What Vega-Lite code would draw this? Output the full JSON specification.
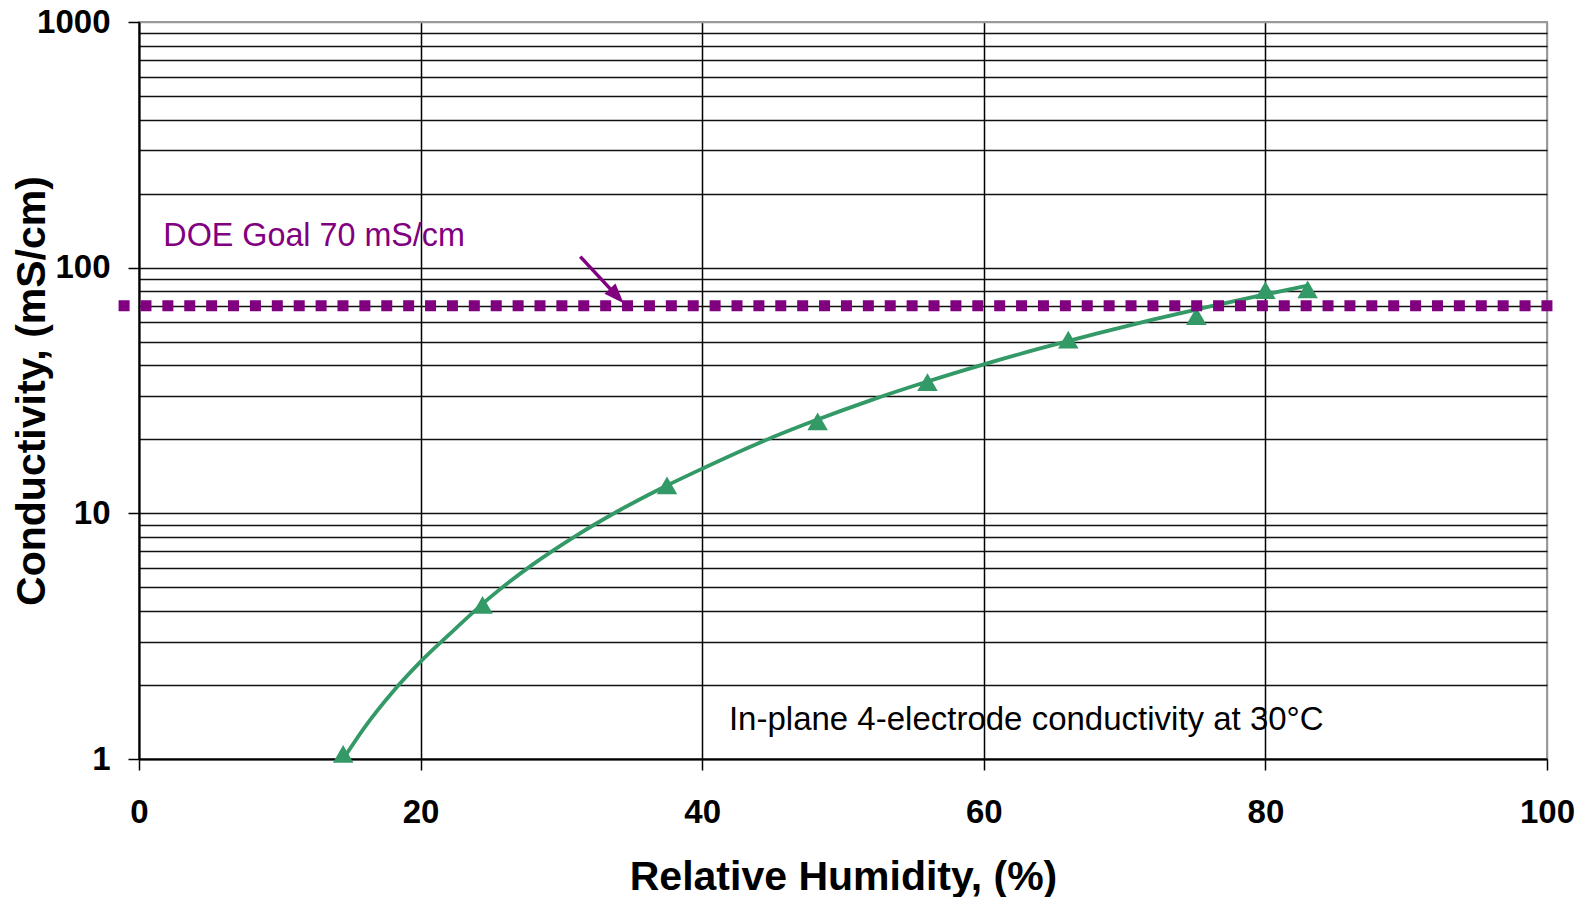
{
  "$schema": "https://vega.github.io/schema/vega-lite/v6.json",
  "width": 1408,
  "height": 737,
  "autosize": {"type": "none"},
  "padding": {"left": 139, "top": 22, "right": 39, "bottom": 138},
  "background": "white",
  "config": {
    "font": "Liberation Sans",
    "view": {"stroke": "#9a9a9a", "strokeWidth": 2}
  },
  "datasets": {
    "fit": [
      {"rh": 14.5, "sigma": 1.0},
      {"rh": 16, "sigma": 1.34},
      {"rh": 18, "sigma": 1.87},
      {"rh": 20, "sigma": 2.49},
      {"rh": 22, "sigma": 3.2},
      {"rh": 25, "sigma": 4.58},
      {"rh": 28, "sigma": 6.21},
      {"rh": 31, "sigma": 8.08},
      {"rh": 34, "sigma": 10.2},
      {"rh": 37, "sigma": 12.57},
      {"rh": 40, "sigma": 15.2},
      {"rh": 44, "sigma": 19.3},
      {"rh": 48, "sigma": 23.85},
      {"rh": 52, "sigma": 28.9},
      {"rh": 56, "sigma": 34.4},
      {"rh": 60, "sigma": 40.4},
      {"rh": 64, "sigma": 46.9},
      {"rh": 68, "sigma": 53.9},
      {"rh": 72, "sigma": 61.4},
      {"rh": 76, "sigma": 69.4},
      {"rh": 80, "sigma": 77.8},
      {"rh": 83, "sigma": 84.5}
    ],
    "measured": [
      {"rh": 14.5, "sigma": 1.05},
      {"rh": 24.4, "sigma": 4.24},
      {"rh": 37.5, "sigma": 13.0},
      {"rh": 48.2, "sigma": 23.7},
      {"rh": 56.0, "sigma": 34.2},
      {"rh": 66.0, "sigma": 50.9},
      {"rh": 75.1, "sigma": 63.5},
      {"rh": 80.0, "sigma": 81.0},
      {"rh": 83.0, "sigma": 81.5}
    ],
    "goal": [{"rh": -1.45, "rh_end": 100.4, "sigma": 70}],
    "arrow": [{"rh": 31.34, "rh_end": 33.9, "sigma": 110.9, "sigma_end": 77.1, "tip_rh": 34.42, "tip_sigma": 71.6}],
    "goalLabel": [{"rh": 1.73, "sigma": 122.5, "text": "DOE Goal 70 mS/cm"}],
    "note": [{"rh": 41.9, "sigma": 1.312, "text": "In-plane 4-electrode conductivity at 30°C"}]
  },
  "layer": [
    {
      "data": {"name": "fit"},
      "mark": {"type": "line", "color": "#339966", "strokeWidth": 3.8, "interpolate": "monotone"},
      "encoding": {
        "x": {
          "field": "rh",
          "type": "quantitative",
          "scale": {"domain": [0, 100], "nice": false, "zero": false},
          "axis": {
            "values": [0, 20, 40, 60, 80, 100],
            "format": "d",
            "grid": true,
            "gridColor": {"condition": {"test": "datum.value == 100", "value": "#9a9a9a"}, "value": "#000000"},
            "gridWidth": 1.5,
            "domainColor": "#000000",
            "domainWidth": 2,
            "tickColor": "#000000",
            "tickWidth": 1.5,
            "tickSize": 11,
            "labelFontSize": 33,
            "labelFontWeight": "bold",
            "labelColor": "#000000",
            "labelPadding": 26,
            "labelFlush": false,
            "labelOverlap": false,
            "title": "Relative Humidity, (%)",
            "titleFontSize": 41,
            "titleFontWeight": "bold",
            "titleColor": "#000000",
            "titlePadding": 28
          }
        },
        "y": {
          "field": "sigma",
          "type": "quantitative",
          "scale": {"type": "log", "domain": [1, 1000], "nice": false},
          "axis": {
            "values": [1, 2, 3, 4, 5, 6, 7, 8, 9, 10, 20, 30, 40, 50, 60, 70, 80, 90, 100, 200, 300, 400, 500, 600, 700, 800, 900, 1000],
            "labelExpr": "abs(log(datum.value)/LN10 - round(log(datum.value)/LN10)) < 1e-6 ? format(datum.value, 'd') : ''",
            "grid": true,
            "gridColor": {"condition": {"test": "datum.value == 1000", "value": "#9a9a9a"}, "value": "#111111"},
            "gridWidth": 1.5,
            "domainColor": "#000000",
            "domainWidth": 2,
            "tickColor": "#000000",
            "tickWidth": 1.5,
            "tickSize": 11,
            "tickOpacity": {"condition": {"test": "abs(log(datum.value)/LN10 - round(log(datum.value)/LN10)) < 1e-6", "value": 1}, "value": 0},
            "labelFontSize": 33,
            "labelFontWeight": "bold",
            "labelColor": "#000000",
            "labelPadding": 18,
            "labelOverlap": false,
            "labelBound": false,
            "labelFlush": false,
            "title": "Conductivity, (mS/cm)",
            "titleFontSize": 41,
            "titleFontWeight": "bold",
            "titleColor": "#000000",
            "titlePadding": -17
          }
        }
      }
    },
    {
      "data": {"name": "measured"},
      "mark": {"type": "point", "shape": "triangle-up", "filled": true, "color": "#339966", "opacity": 1, "size": 420},
      "encoding": {
        "x": {"field": "rh", "type": "quantitative"},
        "y": {"field": "sigma", "type": "quantitative"}
      }
    },
    {
      "data": {"name": "goal"},
      "mark": {"type": "rule", "color": "#800080", "strokeWidth": 11, "strokeDash": [11, 10.89], "strokeCap": "butt", "clip": false},
      "encoding": {
        "x": {"field": "rh", "type": "quantitative"},
        "x2": {"field": "rh_end"},
        "y": {"field": "sigma", "type": "quantitative"}
      }
    },
    {
      "data": {"name": "arrow"},
      "mark": {"type": "rule", "color": "#800080", "strokeWidth": 3.5},
      "encoding": {
        "x": {"field": "rh", "type": "quantitative"},
        "x2": {"field": "rh_end"},
        "y": {"field": "sigma", "type": "quantitative"},
        "y2": {"field": "sigma_end"}
      }
    },
    {
      "data": {"name": "arrow"},
      "mark": {"type": "point", "shape": "M0,0 L0.75,2 L-0.75,2 Z", "filled": true, "color": "#800080", "opacity": 1, "size": 400, "angle": 137},
      "encoding": {
        "x": {"field": "tip_rh", "type": "quantitative"},
        "y": {"field": "tip_sigma", "type": "quantitative"}
      }
    },
    {
      "data": {"name": "goalLabel"},
      "mark": {"type": "text", "align": "left", "baseline": "alphabetic", "fontSize": 32.3, "color": "#800080"},
      "encoding": {
        "x": {"field": "rh", "type": "quantitative"},
        "y": {"field": "sigma", "type": "quantitative"},
        "text": {"field": "text"}
      }
    },
    {
      "data": {"name": "note"},
      "mark": {"type": "text", "align": "left", "baseline": "alphabetic", "fontSize": 33, "color": "#000000"},
      "encoding": {
        "x": {"field": "rh", "type": "quantitative"},
        "y": {"field": "sigma", "type": "quantitative"},
        "text": {"field": "text"}
      }
    }
  ]
}
